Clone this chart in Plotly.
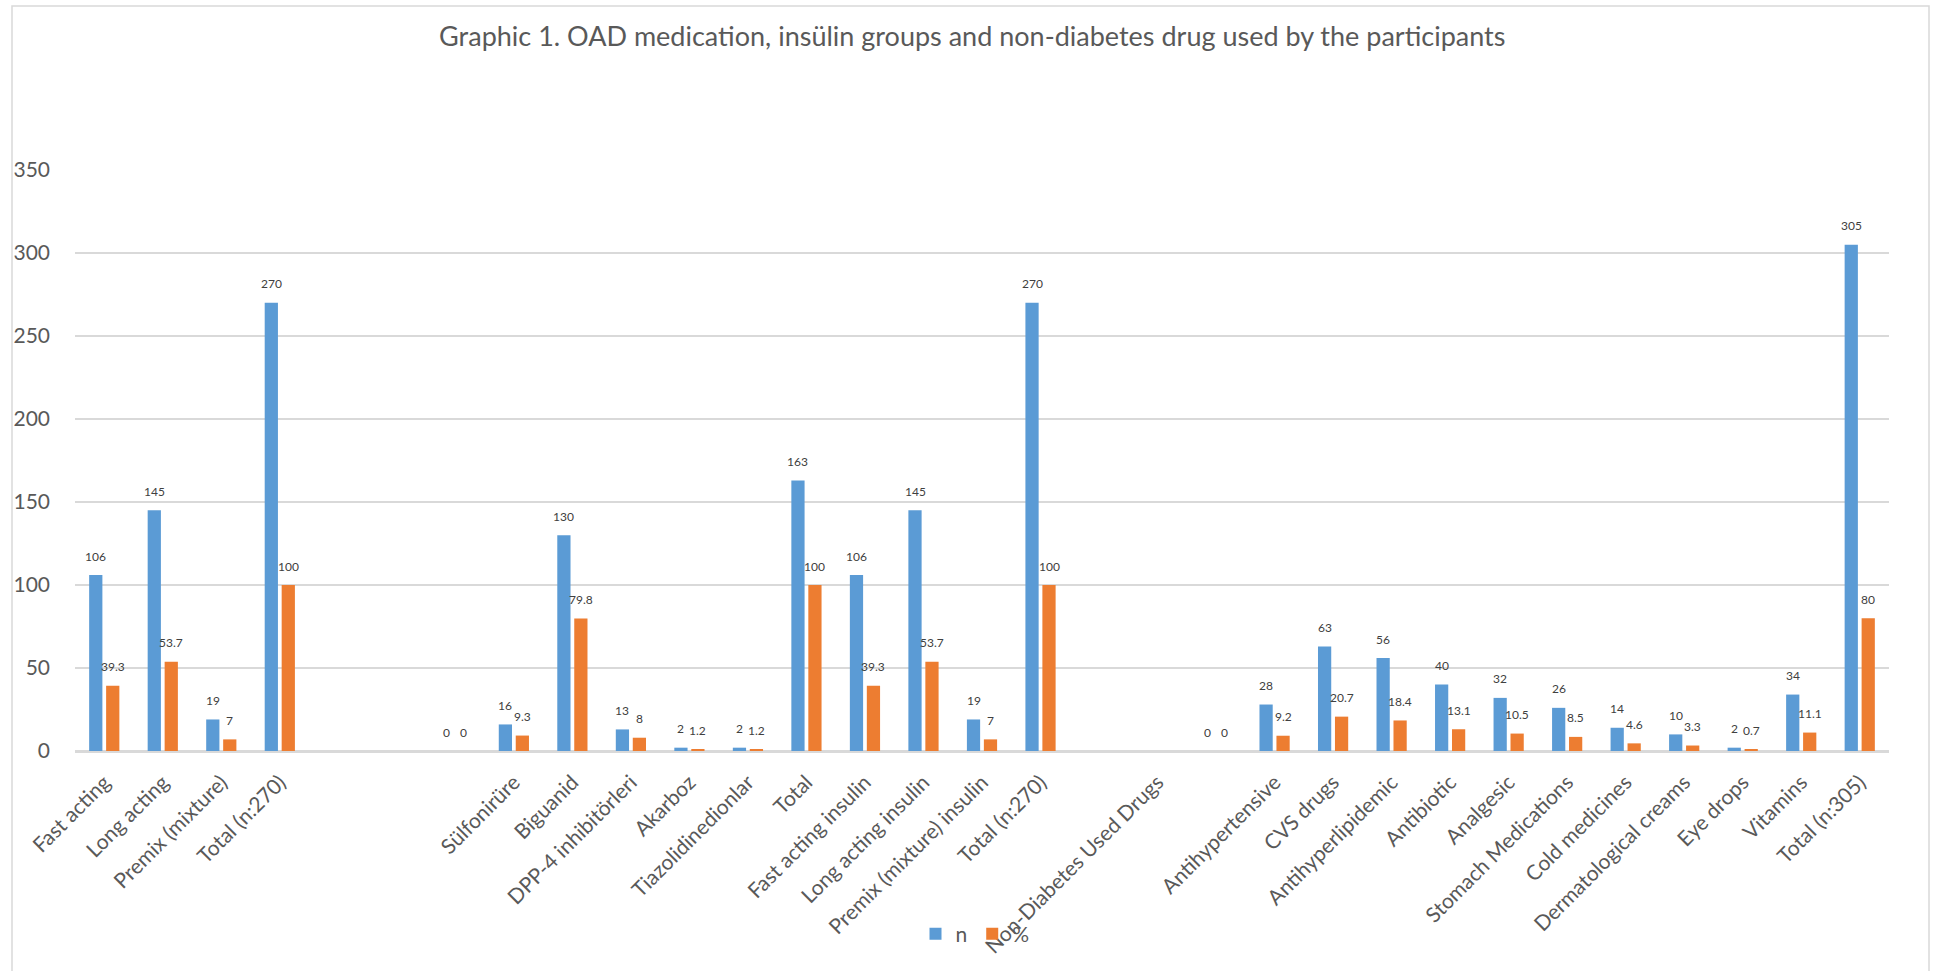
import plotly.graph_objects as go

categories = ["Fast acting", "Long acting", "Premix (mixture)", "Total (n:270)", "", "", "",
              "Sülfonirüre", "Biguanid", "DPP-4 inhibitörleri", "Akarboz", "Tiazolidinedionlar", "Total",
              "Fast acting insulin", "Long acting insulin", "Premix (mixture) insulin", "Total (n:270)",
              "", "Non-Diabetes Used Drugs", "",
              "Antihypertensive", "CVS drugs", "Antihyperlipidemic", "Antibiotic", "Analgesic",
              "Stomach Medications", "Cold medicines", "Dermatological creams", "Eye drops", "Vitamins",
              "Total (n:305)"]
n_values = [106, 145, 19, 270, None, None, 0,
            16, 130, 13, 2, 2, 163,
            106, 145, 19, 270,
            None, None, 0,
            28, 63, 56, 40, 32, 26, 14, 10, 2, 34, 305]
pct_values = [39.3, 53.7, 7, 100, None, None, 0,
              9.3, 79.8, 8, 1.2, 1.2, 100,
              39.3, 53.7, 7, 100,
              None, None, 0,
              9.2, 20.7, 18.4, 13.1, 10.5, 8.5, 4.6, 3.3, 0.7, 11.1, 80]
y_ticks = [0, 50, 100, 150, 200, 250, 300, 350]

FONT = "Lato, 'Open Sans', sans-serif"
BLUE = "#5B9BD5"
ORANGE = "#ED7D31"
BARGAP = 0.42


def fmt(v):
    return "" if v is None else ("%g" % v)


x_idx = list(range(len(categories)))

fig = go.Figure()
fig.add_trace(go.Bar(
    x=x_idx, y=n_values, name="n", marker=dict(color=BLUE, line=dict(width=0)),
))
fig.add_trace(go.Bar(
    x=x_idx, y=pct_values, name="%", marker=dict(color=ORANGE, line=dict(width=0)),
))

# data labels above each bar (Excel "outside end" style)
slot = (1 - BARGAP) / 2
annotations = []
for series, off in ((n_values, -slot / 2), (pct_values, slot / 2)):
    for i, v in zip(x_idx, series):
        if v is None:
            continue
        annotations.append(dict(x=i + off, y=v, xref="x", yref="y", text=fmt(v), showarrow=False,
                                yshift=19, yanchor="middle", xanchor="center",
                                font=dict(family=FONT, size=12, color="#404040")))

L, R, T, B = 75, 44, 170, 220
W, H = 1933, 971
pw = W - L - R
ph = H - T - B


def px2paper_x(px):
    return (px - L) / pw


def px2paper_y(py):
    return (H - B - py) / ph


fig.update_layout(
    width=W, height=H,
    margin=dict(l=L, r=R, t=T, b=B),
    paper_bgcolor="white", plot_bgcolor="white",
    barmode="group", bargap=BARGAP, bargroupgap=0.22,
    font=dict(family=FONT, color="#595959"),
    title=dict(text="Graphic 1. OAD medication, insülin groups and non-diabetes drug used by the participants",
               x=0.503, xanchor="center", y=1 - 37 / H, yanchor="middle", yref="container",
               font=dict(family=FONT, size=27, color="#595959")),
    showlegend=True,
    legend=dict(orientation="h", x=px2paper_x(975), xanchor="center", y=px2paper_y(934), yanchor="middle",
                font=dict(family=FONT, size=21, color="#595959"), bgcolor="rgba(0,0,0,0)",
                traceorder="normal", itemwidth=30),
    xaxis=dict(range=[-0.5, len(categories) - 0.5], tickmode="array", tickvals=x_idx, ticktext=categories,
               tickangle=-45, tickfont=dict(family=FONT, size=21, color="#595959"),
               showgrid=False, zeroline=False, showline=False, ticks="", ticklabelstandoff=14),
    yaxis=dict(range=[0, 350], tickmode="array", tickvals=y_ticks,
               tickfont=dict(family=FONT, size=21, color="#595959"),
               showgrid=True, gridcolor="#D9D9D9", gridwidth=1.5,
               zeroline=True, zerolinecolor="#D9D9D9", zerolinewidth=3,
               showline=False, ticks="", ticklabelstandoff=24),
    annotations=annotations,
    shapes=[dict(type="rect", xref="paper", yref="paper",
                 x0=px2paper_x(12), x1=px2paper_x(1929), y0=px2paper_y(976), y1=px2paper_y(6),
                 line=dict(color="#D9D9D9", width=1.5), fillcolor="rgba(0,0,0,0)", layer="below")],
)

fig.write_html("out.html")
